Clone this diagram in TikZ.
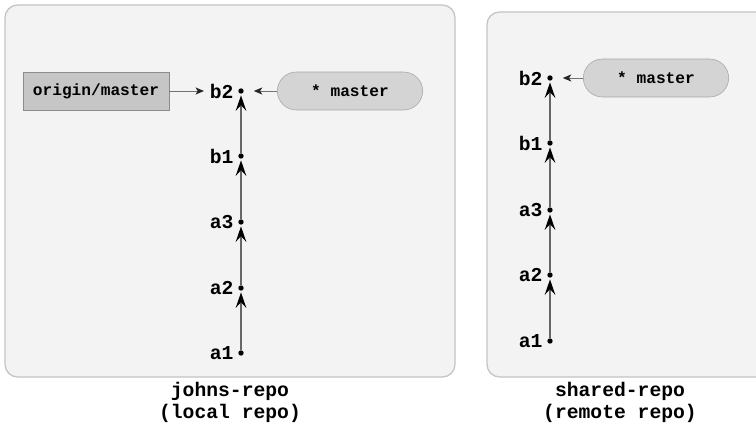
\documentclass[tikz,border=0pt]{standalone}
\usepackage{fontspec}
\setmonofont{Liberation Mono}
\usetikzlibrary{arrows.meta,positioning,shapes.misc}
\definecolor{panelfill}{HTML}{F3F3F3}
\definecolor{paneldraw}{HTML}{C4C4C4}
\definecolor{reffill}{HTML}{C6C6C6}
\definecolor{pillfill}{HTML}{D4D4D4}
\tikzset{
  panel/.style = {draw = paneldraw, fill = panelfill, line width = 0.9pt, rounded corners = 9pt},
  commit/.style = {circle, fill = black, inner sep = 0pt, minimum size = 3.8pt},
  lbl/.style = {font = \ttfamily\bfseries\fontsize{14}{16}\selectfont, inner sep = 1pt, label distance = 2pt},
  hist/.style = {draw = black!60, line width = 1.1pt, -{Stealth[length = 11pt, width = 7.5pt, inset = 4pt, black]}, shorten > = 1pt},
  origbox/.style = {draw = black!45, fill = reffill, minimum width = 104pt, minimum height = 27pt, font = \ttfamily\bfseries\fontsize{11.5}{13}\selectfont},
  pill/.style = {rounded rectangle, draw = black!35, fill = pillfill, minimum width = 110pt, minimum height = 27pt, font = \ttfamily\bfseries\fontsize{11.5}{13}\selectfont},
  refarrow/.style = {draw = black!55, line width = 0.7pt, -{Stealth[length = 6pt, width = 5pt, inset = 1.5pt, black!85]}},
  caption/.style = {align = center, font = \ttfamily\bfseries\fontsize{14}{15.6}\selectfont}
}
\begin{document}
\begin{tikzpicture}[x = 0.025cm, y = -0.025cm]
	\useasboundingbox (0,0) rectangle (756,432);
	% repositories
	\draw [panel] (5,5) rectangle (455,377);
	\draw [panel] (487,12) rectangle (770,377);
	% johns-repo
	\foreach \name/\y in {a1/353,a2/288,a3/222,b1/156,b2/91}{
	\node [commit, label = {[lbl, name = jl\name]left:\name}] (j\name) at (241,\y) {};
	}
	\draw [hist] (ja1) -- (ja2);
	\draw [hist] (ja2) -- (ja3);
	\draw [hist] (ja3) -- (jb1);
	\draw [hist] (jb1) -- (jb2);
	\node [origbox] (jorigin) at (96,91) {origin/master};
	\node [pill] (jmaster) at (350,91) {* master};
	\draw [refarrow, shorten > = 3pt] (jorigin) -- (jlb2);
	\draw [refarrow, shorten > = 7pt] (jmaster) -- (jb2);
	\node [caption] (jcap) at (230,402) {johns-repo\\(local repo)};
	% shared-repo
	\foreach \name/\y in {a1/341,a2/275,a3/210,b1/143,b2/78}{
	\node [commit, label = {[lbl, name = sl\name]left:\name}] (s\name) at (550,\y) {};
	}
	\draw [hist] (sa1) -- (sa2);
	\draw [hist] (sa2) -- (sa3);
	\draw [hist] (sa3) -- (sb1);
	\draw [hist] (sb1) -- (sb2);
	\node [pill] (smaster) at (656,78) {* master};
	\draw [refarrow, shorten > = 7pt] (smaster) -- (sb2);
	\node [caption] (scap) at (620,402) {shared-repo\\(remote repo)};
\end{tikzpicture}
\end{document}
